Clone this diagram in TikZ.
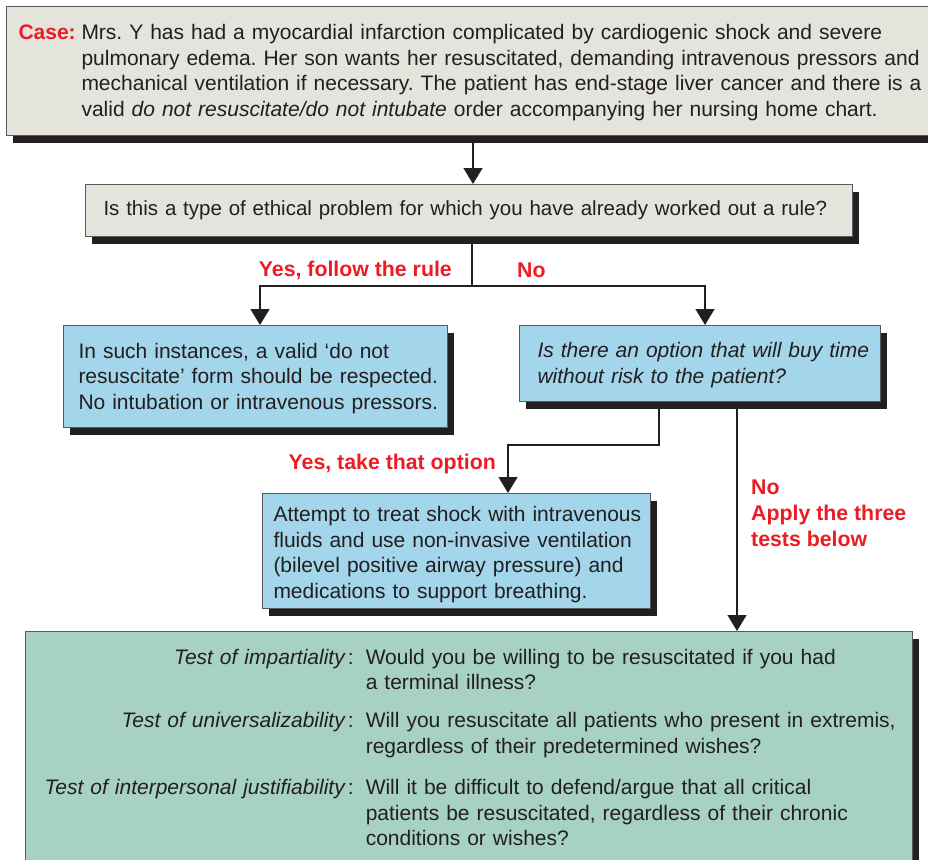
\documentclass[tikz,border=0pt]{standalone}
\usepackage{fontspec}
\setmainfont{Liberation Sans}
\usetikzlibrary{arrows.meta,shadows}
\definecolor{myred}{HTML}{ED1C24}
\definecolor{graybox}{HTML}{E4E4DC}
\definecolor{bluebox}{HTML}{A3D5EB}
\definecolor{greenbox}{HTML}{A7D2C1}
\definecolor{shadowc}{HTML}{231F20}
\definecolor{txt}{HTML}{231F20}
\definecolor{edge}{HTML}{5A5A5A}
\frenchspacing
% #1 left indent, #2 vertical shift (down), #3 lines
\newcommand{\boxlines}[3]{\hspace*{#1}\raisebox{-#2}[\height][\depth]{\begin{tabular}[c]{@{}l@{}}#3\end{tabular}}}
\begin{document}
\begin{tikzpicture}[x=1pt,y=-1pt,
  every node/.style={font=\fontsize{21}{25.6}\selectfont,text=txt},
  box/.style={draw=edge,line width=1pt,anchor=north west,inner sep=0pt,align=left,
    drop shadow={shadow xshift=6pt,shadow yshift=-7pt,fill=shadowc,opacity=1}},
  gbox/.style={box,fill=graybox},
  bbox/.style={box,fill=bluebox},
  grbox/.style={box,fill=greenbox},
  lab/.style={text=myred,font=\fontsize{21.3}{25.6}\selectfont\bfseries,inner sep=0pt},
  conn/.style={draw=shadowc,line width=1.3pt},
  arr/.style={conn,-{Triangle[width=19pt,length=16pt]}}]
\useasboundingbox (0,0) rectangle (928,859);

\node[gbox,minimum width=929pt,minimum height=129pt,text width=929pt] (top) at (6,6)
 {\boxlines{12pt}{2pt}{\makebox[63pt][l]{\textcolor{myred}{\bfseries Case:}}Mrs. Y has had a myocardial infarction complicated by cardiogenic shock and severe\\
 \hspace{63pt}pulmonary edema. Her son wants her resuscitated, demanding intravenous pressors and\\
 \hspace{63pt}mechanical ventilation if necessary. The patient has end-stage liver cancer and there is a\\
 \hspace{63pt}valid \textit{do not resuscitate/do not intubate} order accompanying her nursing home chart.}};

\node[gbox,minimum width=767pt,minimum height=52pt,text width=767pt,font=\fontsize{20.5}{25.6}\selectfont] (q) at (85,184)
 {\boxlines{18pt}{0pt}{Is this a type of ethical problem for which you have already worked out a rule?}};

\node[bbox,minimum width=384pt,minimum height=102pt,text width=384pt] (b3) at (63,325)
 {\boxlines{15pt}{2pt}{In such instances, a valid `do not\\resuscitate' form should be respected.\\No intubation or intravenous pressors.}};

\node[bbox,minimum width=361pt,minimum height=76pt,text width=361pt] (b4) at (519,325)
 {\boxlines{18pt}{2pt}{\itshape Is there an option that will buy time\\\itshape without risk to the patient?}};

\node[bbox,minimum width=388pt,minimum height=115pt,text width=388pt] (b5) at (262,493)
 {\boxlines{11pt}{4pt}{Attempt to treat shock with intravenous\\fluids and use non-invasive ventilation\\(bilevel positive airway pressure) and\\medications to support breathing.}};

\node[grbox,minimum width=887pt,minimum height=237pt,text width=887pt] (b6) at (25,631)
 {\hspace*{19pt}\begin{tabular}{@{}r@{\hspace{12pt}}l@{}}
 \textit{Test of impartiality}\hspace{2pt}: & Would you be willing to be resuscitated if you had\\
  & a terminal illness?\\[12pt]
 \textit{Test of universalizability}\hspace{2pt}: & Will you resuscitate all patients who present in extremis,\\
  & regardless of their predetermined wishes?\\[16pt]
 \textit{Test of interpersonal justifiability}\hspace{2pt}: & Will it be difficult to defend/argue that all critical\\
  & patients be resuscitated, regardless of their chronic\\
  & conditions or wishes?
 \end{tabular}};

% connectors
\draw[arr] (top.south -| 473,0) -- (q.north -| 473,0);
\draw[conn] (q.south -| 472,0) -- (472,286) coordinate (split);
\draw[arr] (split) -| (b3.north -| 260,0);
\draw[arr] (split) -| (b4.north -| 705,0);
\draw[arr] (b4.south -| 659,0) |- (508,445) coordinate (bend) -- (b5.north -| 508,0);
\draw[arr] (b4.south -| 737,0) -- (b6.north -| 737,0);

% labels
\node[lab,anchor=base east] (l1) at (452,276) {Yes, follow the rule};
\node[lab,anchor=base west] (l2) at (517,277) {No};
\node[lab,anchor=base east] (l3) at (496,469) {Yes, take that option};
\node[lab,anchor=north west,align=left] (l4) at (751,480) {No\\Apply the three\\tests below};
\end{tikzpicture}
\end{document}
